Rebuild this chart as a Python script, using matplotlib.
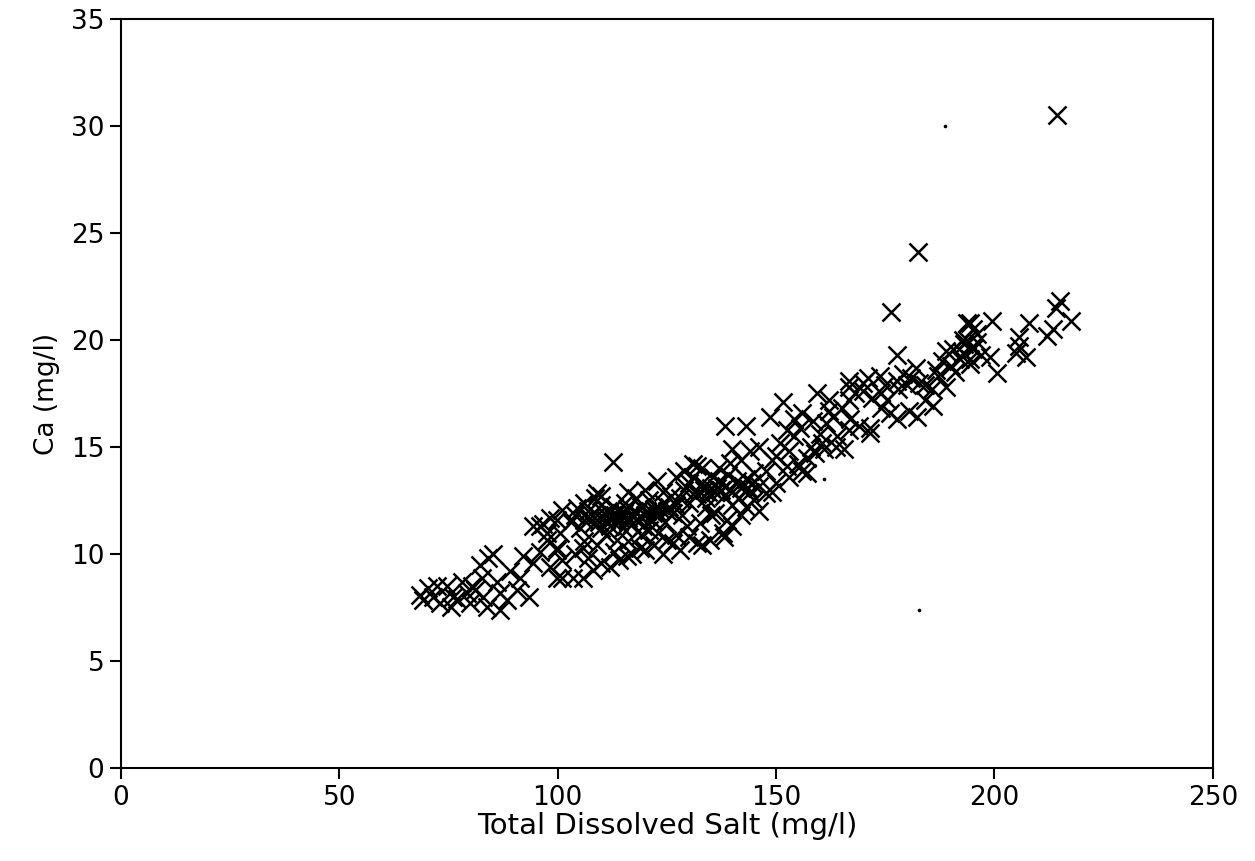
import matplotlib
matplotlib.use("Agg")
import matplotlib.pyplot as plt

# Total dissolved salt (mg/l) vs Ca (mg/l)
tds = [
    68.4, 69.1, 70.3, 71.4, 72.3, 73.0, 74.6, 75.5, 76.0, 77.0, 78.0, 79.2, 79.9, 80.3, 81.0,
    82.2, 82.6, 82.8, 83.8, 84.0, 85.1, 86.0, 86.7, 86.7, 88.3, 89.0, 90.6, 91.3, 92.0, 93.5,
    94.3, 95.9, 97.5, 98.2, 94.3, 96.6, 99.8, 101.0, 100.5, 99.8, 101.0, 98.2, 101.0, 103.4,
    99.8, 97.5, 95.9, 99.8, 105.7, 104.3, 105.7,
    108.0, 112.0, 115.8, 118.8, 125.0, 126.3, 131.8, 129.5, 121.0, 113.5, 108.9, 112.6, 122.7, 130.9,
    103.0, 104.0, 105.0, 106.0, 107.0, 108.0, 108.5, 109.0, 110.0, 110.0, 111.0, 111.5, 112.0,
    112.5, 113.0, 114.0, 114.5, 115.0, 115.5, 116.0, 117.0, 117.5, 118.0, 119.0, 119.5, 120.0,
    121.0, 121.5, 122.0, 123.0, 124.0, 124.5, 125.0, 126.0, 126.5, 127.0, 128.0, 128.5, 129.0,
    130.0, 130.0, 131.0,
    104.0, 106.0, 107.0, 109.0, 110.0, 111.0, 113.0, 114.0, 116.0, 117.0, 119.0, 120.0, 122.0,
    123.0, 124.0, 127.0, 128.0, 130.0, 133.0,
    106.0, 110.0, 116.0, 118.0, 120.0, 124.0, 127.0, 129.0, 131.0, 133.0,
    107.5, 109.5, 110.5, 112.2, 113.2, 114.2, 115.2, 116.2, 117.2, 118.2, 119.2, 120.5, 121.8,
    123.5, 125.5, 111.8, 115.8, 122.5,
    138.2, 143.2, 148.5, 140.0, 146.2, 139.4, 131.8, 147.8, 147.8, 143.2, 138.7, 137.8, 132.5,
    134.8, 138.0,
    132.0, 133.0, 134.0, 135.0, 135.5, 136.0, 137.0, 138.0, 138.5, 139.0, 140.0, 141.0, 141.5,
    142.0, 143.0, 144.0, 144.5, 145.0, 146.0, 134.0, 136.0, 140.0, 142.0, 145.0, 137.0, 142.0,
    144.0, 135.0, 140.0, 146.0, 149.0, 150.0,
    133.5, 136.5, 139.5, 142.5, 134.5, 137.5, 143.5,
    151.5, 159.3, 152.4, 156.0, 162.0, 166.8, 166.8, 160.6, 157.0, 152.4, 163.8, 162.2, 166.8,
    150.0, 151.0, 153.0, 154.0, 155.0, 155.5, 156.0, 158.0, 158.5, 159.0, 160.0, 161.0, 161.5,
    163.0, 164.0, 165.0, 165.5, 167.0, 168.0, 169.0, 153.0, 157.0, 149.0, 154.0,
    176.4, 177.6, 194.3, 182.0, 186.7, 189.0, 192.7, 195.9, 194.3, 189.0, 185.8, 182.8, 166.8,
    169.8, 173.7, 177.6, 180.5, 182.2, 177.6, 176.0, 171.4, 171.4, 172.0, 182.4,
    170.0, 171.0, 174.0, 175.0, 175.5, 178.0, 179.0, 180.0, 181.0, 184.0, 187.0, 188.0, 190.0,
    190.5, 191.0, 192.0, 193.0, 195.0, 196.0, 197.0, 184.0, 186.0, 174.0,
    214.9, 214.2, 217.6, 213.3, 212.0, 208.0, 205.7, 205.7, 207.3, 205.0, 199.5, 193.6, 195.0,
    193.6, 192.7, 198.9, 200.5, 194.3, 214.4,
]
ca = [
    8.1, 7.85, 8.4, 8.0, 8.5, 7.7, 8.5, 7.5, 8.0, 7.9, 8.7, 8.2, 7.7, 8.5, 8.3,
    9.5, 8.9, 8.0, 7.5, 9.8, 10.0, 8.7, 8.2, 7.4, 7.85, 9.2, 8.3, 8.9, 9.9, 8.0,
    9.6, 10.1, 10.65, 9.4, 11.3, 11.4, 11.6, 12.05, 11.0, 10.2, 8.9, 11.7, 9.7, 8.9,
    10.3, 11.0, 11.3, 8.9, 8.9, 12.15, 10.3,
    9.25, 9.4, 9.9, 10.3, 10.65, 10.5, 10.5, 11.3, 11.1, 10.65, 12.85, 14.3, 13.4, 14.2,
    11.5, 11.8, 11.2, 11.6, 12.0, 11.4, 12.6, 11.8, 11.2, 12.3, 11.6, 12.0, 11.3,
    11.8, 12.2, 11.5, 11.9, 11.2, 12.4, 11.7, 11.4, 12.0, 11.6, 12.2, 11.3, 11.8,
    12.5, 11.6, 12.1, 11.8, 12.4, 11.5, 12.0, 12.7, 11.9, 12.3, 12.6, 11.8, 13.0,
    12.4, 13.3, 12.8,
    10.0, 10.6, 9.8, 10.4, 9.6, 10.9, 10.1, 9.7, 10.6, 10.0, 10.9, 10.2, 10.4,
    11.0, 10.0, 10.9, 10.2, 10.8, 10.4,
    12.4, 12.7, 12.9, 12.6, 13.0, 12.9, 13.6, 13.9, 13.6, 14.0,
    11.7, 11.5, 11.9, 11.6, 11.8, 11.7, 11.9, 11.5, 11.8, 11.9, 11.7, 12.0, 11.9,
    12.1, 12.2, 11.9, 12.1, 12.0,
    16.0, 16.0, 16.4, 14.9, 15.0, 14.25, 14.1, 13.9, 12.85, 12.2, 11.6, 11.0, 11.45,
    10.65, 10.8,
    12.8, 13.3, 12.6, 13.1, 13.6, 12.9, 13.4, 12.7, 13.2, 13.7, 12.9, 13.4, 12.6,
    13.1, 13.5, 12.9, 13.3, 13.8, 13.2, 12.2, 11.9, 12.3, 11.8, 12.5, 14.0, 14.4,
    14.8, 11.8, 11.3, 12.0, 12.9, 13.3,
    13.0, 13.1, 13.0, 13.2, 12.9, 13.0, 13.1,
    17.1, 17.5, 15.8, 16.6, 16.7, 17.8, 15.8, 15.2, 14.5, 14.1, 15.0, 17.2, 17.2,
    14.6, 15.2, 14.8, 15.5, 14.2, 15.9, 13.9, 15.0, 16.2, 14.7, 15.6, 14.9, 16.1,
    16.4, 15.5, 16.8, 14.9, 16.3, 17.5, 16.0, 13.6, 13.8, 14.4, 16.3,
    21.3, 19.3, 20.8, 18.7, 18.6, 19.5, 20.0, 20.3, 19.1, 17.8, 17.7, 18.0, 18.1,
    18.0, 18.3, 18.1, 16.7, 16.4, 16.3, 16.6, 15.9, 15.65, 17.3, 24.1,
    17.6, 18.2, 17.5, 17.9, 17.2, 17.7, 18.4, 17.9, 18.2, 17.9, 18.3, 19.0, 18.8,
    19.6, 18.5, 19.1, 19.8, 19.6, 19.9, 19.3, 17.2, 16.9, 16.8,
    21.8, 21.5, 20.9, 20.5, 20.2, 20.8, 20.15, 19.7, 19.2, 19.4, 20.9, 20.8, 20.5,
    20.0, 19.4, 19.2, 18.45, 18.9, 30.5,
]

# stray specks on the scan
speck_x = [188.6, 182.8, 160.9]
speck_y = [30.0, 7.4, 13.5]

x_ticks = [0, 50, 100, 150, 200, 250]
y_ticks = [0, 5, 10, 15, 20, 25, 30, 35]

plt.rcParams["font.family"] = ["DejaVu Sans"]

fig = plt.figure(figsize=(12.55, 8.61), dpi=100)
ax = fig.add_axes([0.0964, 0.108, 0.870, 0.870])

ax.plot(tds, ca, linestyle="none", marker="x", markersize=13,
        markeredgewidth=1.8, color="black")
ax.plot(speck_x, speck_y, linestyle="none", marker="o", markersize=1.6, color="black")

ax.set_xlim(0, 250)
ax.set_ylim(0, 35)
ax.set_xticks(x_ticks)
ax.set_yticks(y_ticks)
ax.tick_params(axis="both", direction="out", length=8, width=1.5,
               labelsize=19, pad=4, colors="black")
for s in ax.spines.values():
    s.set_linewidth(1.5)
    s.set_color("black")

ax.set_xlabel("Total Dissolved Salt (mg/l)", fontsize=21, labelpad=1)
ax.set_ylabel("Ca (mg/l)", fontsize=19, labelpad=8)

fig.savefig("out.png", dpi=100, facecolor="white")
